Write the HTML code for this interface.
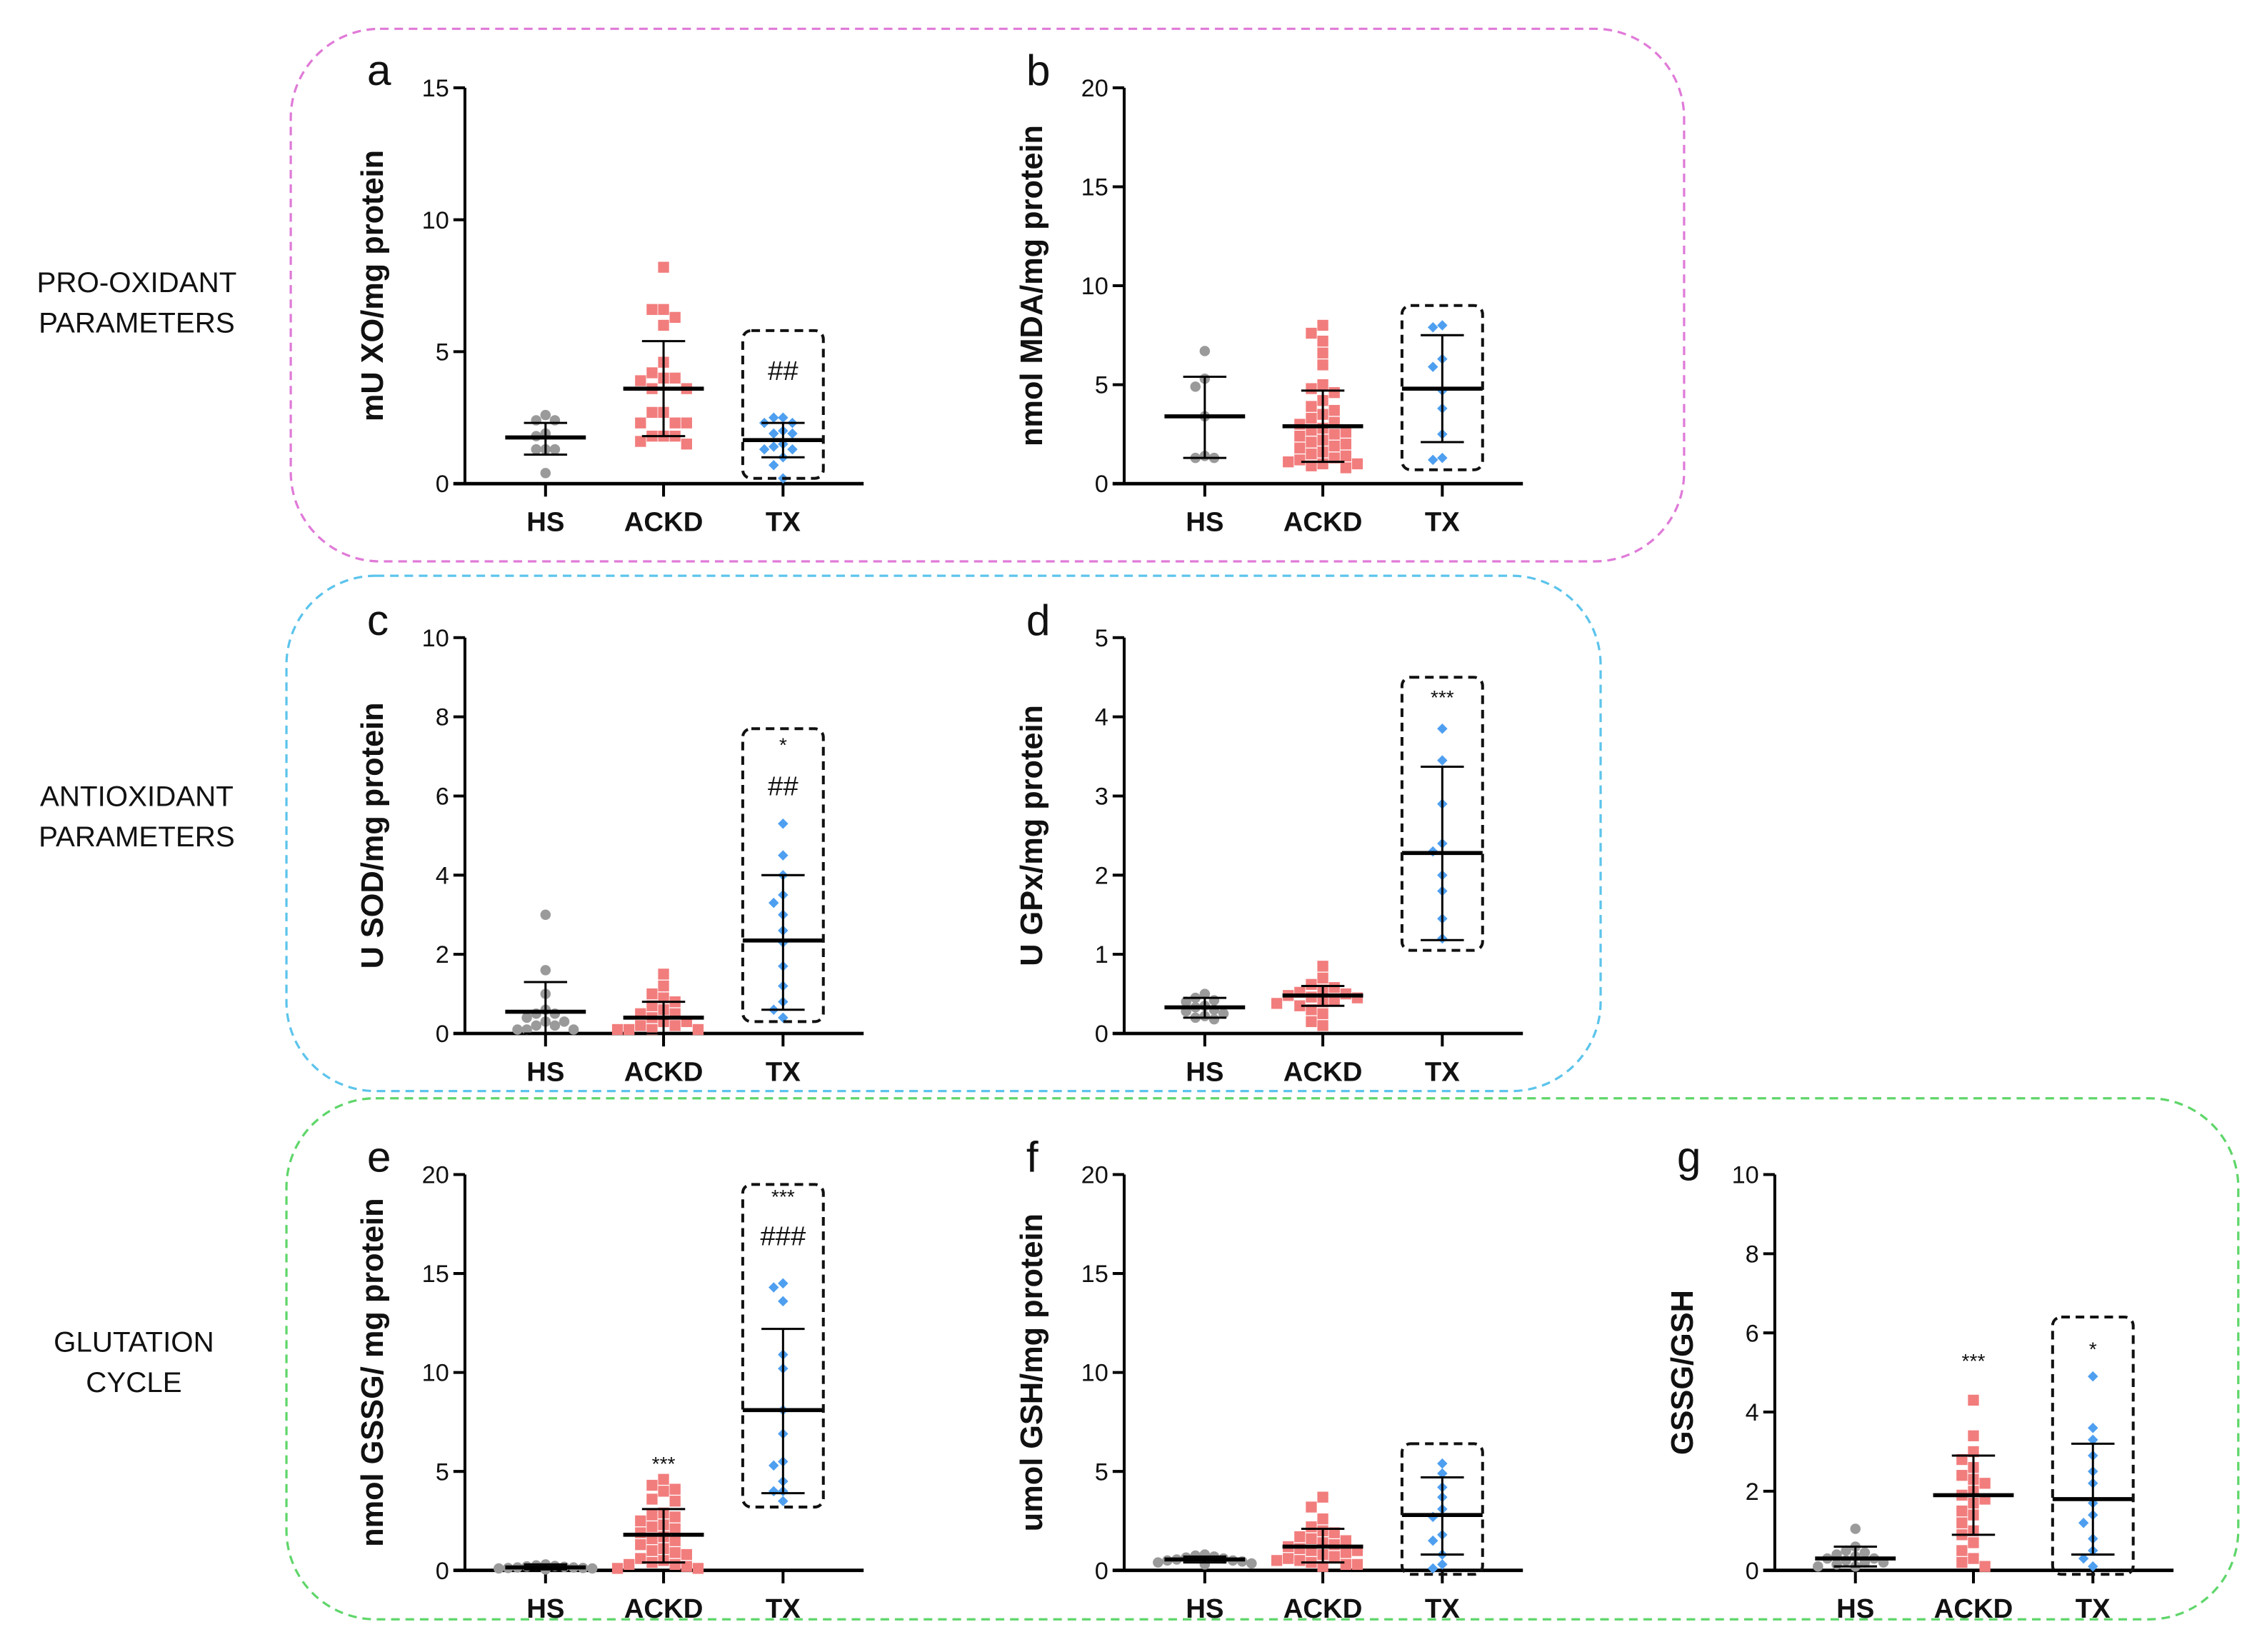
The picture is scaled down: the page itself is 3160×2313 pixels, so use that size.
<!DOCTYPE html>
<html><head><meta charset="utf-8"><style>
html,body{margin:0;padding:0;background:#fff}
svg{display:block}
text{font-family:"Liberation Sans",Arial,sans-serif}
</style></head><body>
<svg id="fig" width="3160" height="2313" viewBox="0 0 1568 1147.7" preserveAspectRatio="none" xmlns="http://www.w3.org/2000/svg">
<rect x="0" y="0" width="1568" height="1148" fill="#fff"/>
<rect x="202" y="20" width="968" height="370" rx="62" fill="none" stroke="#e07ad8" stroke-width="1.6" stroke-dasharray="6,4"/>
<rect x="199" y="400" width="913" height="358" rx="62" fill="none" stroke="#5cc4ec" stroke-width="1.6" stroke-dasharray="6,4"/>
<rect x="199" y="763" width="1356" height="362" rx="62" fill="none" stroke="#5fd66a" stroke-width="1.6" stroke-dasharray="6,4"/>
<g font-size="20" fill="#111" text-anchor="middle">
<text x="95" y="203">PRO-OXIDANT</text>
<text x="95" y="231">PARAMETERS</text>
<text x="95" y="560">ANTIOXIDANT</text>
<text x="95" y="588">PARAMETERS</text>
<text x="93" y="939">GLUTATION</text>
<text x="93" y="967">CYCLE</text>
</g>
<g id="panels"></g>
</svg>
<script>
const groups = ["HS","ACKD","TX"];
// panel a
const aHS=[2.6,2.4,2.4,1.9,1.8,1.3,1.3,1.3,0.4];
const aACKD=[8.2,6.6,6.6,6.3,6.0,4.6,4.2,4.0,4.0,3.9,3.6,3.6,2.7,2.7,2.3,2.3,2.3,1.8,1.8,1.8,1.6,1.5];
const aTX=[2.5,2.5,2.3,2.3,2.0,1.9,1.9,1.5,1.4,1.3,1.3,1.0,0.7,0.2];
const aMean=[1.75,3.6,1.65], aHi=[2.3,5.4,2.3], aLo=[1.1,1.8,1.0];
// panel b
const bHS=[6.7,5.3,4.9,3.4,1.4,1.3,1.3];
const bACKD=[8.0,7.6,7.2,6.6,6.0,5.0,4.8,4.6,4.2,3.9,3.7,3.5,3.3,3.1,3.0,2.8,2.7,2.6,2.5,2.4,2.2,2.1,2.0,1.9,1.8,1.6,1.5,1.4,1.3,1.2,1.1,1.0,1.0,0.9,0.8];
const bTX=[8.0,7.9,6.3,5.9,4.7,3.8,2.5,1.3,1.2];
const bMean=[3.4,2.9,4.8], bHi=[5.4,4.7,7.5], bLo=[1.3,1.1,2.1];
// panel c
const cHS=[3.0,1.6,1.0,0.6,0.5,0.5,0.4,0.3,0.3,0.2,0.2,0.1,0.1,0.1];
const cACKD=[1.5,1.2,1.0,0.9,0.8,0.7,0.6,0.5,0.5,0.4,0.3,0.3,0.2,0.2,0.1,0.1,0.1,0.1];
const cTX=[5.3,4.5,4.0,3.5,3.3,3.0,2.6,2.3,1.7,1.2,0.8,0.6,0.4];
const cMean=[0.55,0.4,2.35], cHi=[1.3,0.8,4.0], cLo=[0,0,0.6];
// panel d
const dHS=[0.5,0.45,0.42,0.4,0.35,0.33,0.3,0.28,0.25,0.22,0.2,0.18];
const dACKD=[0.85,0.7,0.62,0.58,0.55,0.52,0.5,0.48,0.46,0.45,0.42,0.4,0.38,0.35,0.3,0.25,0.15,0.1];
const dTX=[3.85,3.45,2.9,2.4,2.3,2.0,1.8,1.45,1.2];
const dMean=[0.33,0.48,2.28], dHi=[0.45,0.6,3.37], dLo=[0.2,0.35,1.18];
// panel e
const eHS=[0.3,0.25,0.22,0.2,0.18,0.15,0.15,0.12,0.12,0.1,0.1,0.1,0.08,0.05];
const eACKD=[4.6,4.3,4.1,4.0,3.6,3.5,2.9,2.8,2.7,2.5,2.3,2.2,2.1,1.9,1.7,1.6,1.5,1.3,1.1,1.0,0.9,0.8,0.6,0.5,0.4,0.3,0.3,0.2,0.1,0.1];
const eTX=[14.5,14.3,13.6,10.9,10.2,8.1,6.9,5.5,5.3,4.5,4.0,4.0,3.5];
const eMean=[0.15,1.8,8.1], eHi=[0.3,3.1,12.2], eLo=[0.05,0.4,3.9];
// panel f
const fHS=[0.8,0.75,0.7,0.65,0.6,0.55,0.5,0.5,0.45,0.4,0.35,0.3];
const fACKD=[3.7,3.2,2.6,2.2,2.0,1.9,1.7,1.6,1.5,1.4,1.3,1.2,1.1,1.0,1.0,0.9,0.8,0.7,0.6,0.5,0.5,0.4,0.3,0.3,0.2];
const fTX=[5.4,4.9,4.2,3.7,3.1,2.7,1.8,1.5,0.8,0.3,0.1];
const fMean=[0.55,1.2,2.8], fHi=[0.7,2.1,4.7], fLo=[0.4,0.4,0.8];
// panel g
const gHS=[1.05,0.6,0.5,0.45,0.4,0.35,0.3,0.3,0.25,0.2,0.2,0.15,0.1,0.1];
const gACKD=[4.3,3.4,3.0,2.8,2.6,2.4,2.3,2.2,2.0,1.9,1.8,1.7,1.5,1.4,1.2,1.0,0.9,0.7,0.5,0.3,0.2,0.1];
const gTX=[4.9,3.6,3.3,2.9,2.5,2.2,1.7,1.4,1.2,0.8,0.5,0.3,0.1];
const gMean=[0.3,1.9,1.8], gHi=[0.6,2.9,3.2], gLo=[0.1,0.9,0.4];

const aTicks=[0,5,10,15], bTicks=[0,5,10,15,20], cTicks=[0,2,4,6,8,10], dTicks=[0,1,2,3,4,5], eTicks=[0,5,10,15,20], fTicks=[0,5,10,15,20], gTicks=[0,2,4,6,8,10];

const panels=[
 {id:"a",title:"mU XO/mg protein",data:[aHS,aACKD,aTX],mean:aMean,hi:aHi,lo:aLo,ticks:aTicks,ax:323,top:61,bot:336,tx:[0.2,5.8],notes:[["##",4.2,19]],an:[]},
 {id:"b",title:"nmol MDA/mg protein",data:[bHS,bACKD,bTX],mean:bMean,hi:bHi,lo:bLo,ticks:bTicks,ax:781,top:61,bot:336,tx:[0.7,9.0],notes:[],an:[]},
 {id:"c",title:"U SOD/mg protein",data:[cHS,cACKD,cTX],mean:cMean,hi:cHi,lo:cLo,ticks:cTicks,ax:323,top:443,bot:718,tx:[0.3,7.7],notes:[["*",7.3,14],["##",6.2,19]],an:[]},
 {id:"d",title:"U GPx/mg protein",data:[dHS,dACKD,dTX],mean:dMean,hi:dHi,lo:dLo,ticks:dTicks,ax:781,top:443,bot:718,tx:[1.05,4.5],notes:[["***",4.25,14]],an:[]},
 {id:"e",title:"nmol GSSG/ mg protein",data:[eHS,eACKD,eTX],mean:eMean,hi:eHi,lo:eLo,ticks:eTicks,ax:323,top:816,bot:1091,tx:[3.2,19.5],notes:[["***",18.9,14],["###",16.8,19]],an:[["***",5.4]]},
 {id:"f",title:"umol GSH/mg protein",data:[fHS,fACKD,fTX],mean:fMean,hi:fHi,lo:fLo,ticks:fTicks,ax:781,top:816,bot:1091,tx:[-0.2,6.4],notes:[],an:[]},
 {id:"g",title:"GSSG/GSH",data:[gHS,gACKD,gTX],mean:gMean,hi:gHi,lo:gLo,ticks:gTicks,ax:1233,top:816,bot:1091,tx:[-0.1,6.4],notes:[["*",5.6,14]],an:[["***",5.3]]}
];
const NS="http://www.w3.org/2000/svg";
const root=document.getElementById("panels");
function mk(tag,attrs,parent){const e=document.createElementNS(NS,tag);for(const k in attrs)e.setAttribute(k,attrs[k]);(parent||root).appendChild(e);return e;}
const colors=["#9a9a9a","#f27d7d","#4e9ff0"];
panels.forEach(p=>{
 const g=mk("g",{});
 
 
 const ymax=p.ticks[p.ticks.length-1];
 const Y=v=>p.bot-(v/ymax)*(p.bot-p.top);
 const gx=[p.ax+56,p.ax+138,p.ax+221];
 const xend=p.ax+277;
 const L=mk("text",{x:p.ax-68,y:p.top-2,"font-size":30,fill:"#111"},g);L.textContent=p.id;
 
 
 const cy=(p.top+p.bot)/2, tx0=p.ax-57;
 const T=mk("text",{x:tx0,y:cy,"font-size":21.5,"font-weight":"bold","text-anchor":"middle",transform:`rotate(-90 ${tx0} ${cy})`,fill:"#111"},g);T.textContent=p.title;
 
 
 const ya=mk("line",{x1:p.ax,y1:p.top,x2:p.ax,y2:p.bot,stroke:"#000","stroke-width":2},g);
 
 
 const xa=mk("line",{x1:p.ax-8,y1:p.bot,x2:xend,y2:p.bot,stroke:"#000","stroke-width":2.4},g);
 
 
 p.ticks.forEach(t=>{
  mk("line",{x1:p.ax-8,y1:Y(t),x2:p.ax,y2:Y(t),stroke:"#000","stroke-width":2},g);
  const tl=mk("text",{x:p.ax-11,y:Y(t)+6,"font-size":17,"text-anchor":"end",fill:"#111"},g);tl.textContent=t;
  
  
 });
 groups.forEach((name,i)=>{
  mk("line",{x1:gx[i],y1:p.bot,x2:gx[i],y2:p.bot+9,stroke:"#000","stroke-width":2},g);
  const xl=mk("text",{x:gx[i],y:p.bot+33,"font-size":19,"font-weight":"bold","text-anchor":"middle",fill:"#111"},g);xl.textContent=name;
  
  
  const vals=p.data[i].slice().sort((a,b)=>b-a);
  const placed=[];
  const mind= i===1?8:6.5;
  vals.forEach(v=>{
   const y=Y(v);let off=0;const cands=[0,-1,1,-2,2,-3,3,-4,4,-5,5];
   for(const c of cands){const x=gx[i]+c*mind;if(!placed.some(q=>Math.abs(q[0]-x)<mind-0.1&&Math.abs(q[1]-y)<mind-0.1)){off=c*mind;break;}}
   const x=gx[i]+off;placed.push([x,y]);
   let m;
   if(i===0)m=mk("circle",{cx:x,cy:y,r:3.6,fill:colors[0]},g);
   else if(i===1)m=mk("rect",{x:x-3.8,y:y-3.8,width:7.6,height:7.6,fill:colors[1]},g);
   else m=mk("path",{d:`M${x} ${y-3.6}L${x+3.6} ${y}L${x} ${y+3.6}L${x-3.6} ${y}Z`,fill:colors[2]},g);
   
   
  });
  const eb=mk("g",{stroke:"#000",fill:"none"},g);
  
  
  mk("line",{x1:gx[i],y1:Y(p.hi[i]),x2:gx[i],y2:Y(p.lo[i]),"stroke-width":1.5},eb);
  mk("line",{x1:gx[i]-15,y1:Y(p.hi[i]),x2:gx[i]+15,y2:Y(p.hi[i]),"stroke-width":1.5},eb);
  mk("line",{x1:gx[i]-15,y1:Y(p.lo[i]),x2:gx[i]+15,y2:Y(p.lo[i]),"stroke-width":1.5},eb);
  const ml=mk("line",{x1:gx[i]-28,y1:Y(p.mean[i]),x2:gx[i]+28,y2:Y(p.mean[i]),stroke:"#000","stroke-width":2.8},g);
  
  
 });
 const bx=mk("rect",{x:gx[2]-28,y:Y(p.tx[1]),width:56,height:Y(p.tx[0])-Y(p.tx[1]),rx:6,fill:"none",stroke:"#111","stroke-width":2,"stroke-dasharray":"6,4"},g);
 
 
 p.notes.forEach(n=>{
  const t=mk("text",{x:gx[2],y:Y(n[1])+5,"font-size":n[2],"text-anchor":"middle",fill:"#111"},g);t.textContent=n[0];
  
  
 });
 p.an.forEach(n=>{
  const t=mk("text",{x:gx[1],y:Y(n[1])+5,"font-size":14,"text-anchor":"middle",fill:"#111"},g);t.textContent=n[0];
  
  
 });
});
</script>
</body></html>
